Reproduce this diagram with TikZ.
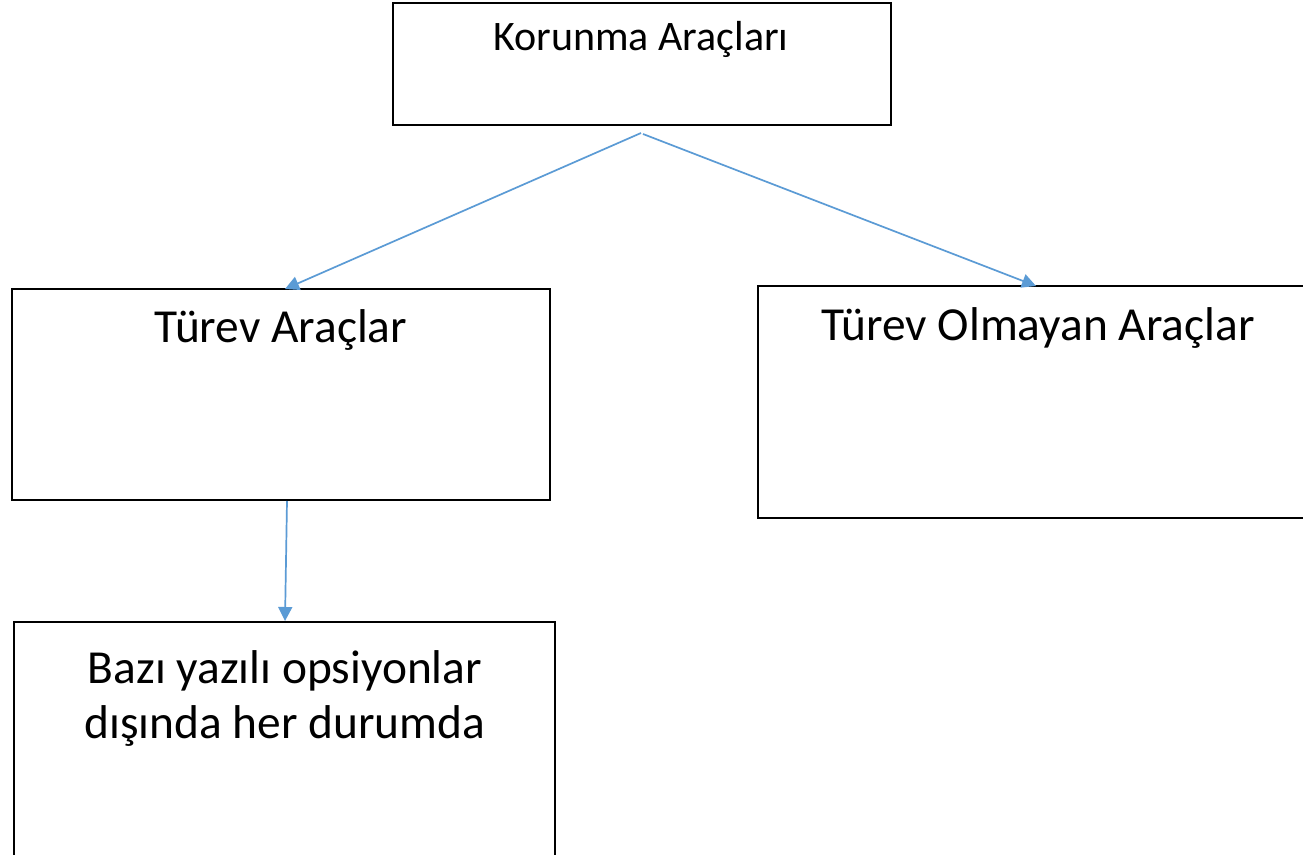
\documentclass[tikz,border=0pt]{standalone}
\usepackage{fontspec}
\setmainfont{Carlito}
\usetikzlibrary{arrows.meta}
\definecolor{arrowblue}{HTML}{5B9BD5}
\tikzset{
  box/.style={draw=black, line width=1.6pt, rectangle, inner sep=0pt},
  lbl/.style={anchor=base, inner sep=0pt, text=black},
  conn/.style={draw=arrowblue, line width=1.7pt, -{Triangle[length=14pt,width=14pt]}}
}
\begin{document}
\begin{tikzpicture}[x=1pt,y=-1pt]
\useasboundingbox (0,0) rectangle (1303,854);
\clip (0,0) rectangle (1303,854);
\fill[white] (0,0) rectangle (1303,854);
% boxes
\node[box, minimum width=498pt, minimum height=122pt] (top) at (642,64) {};
\node[box, minimum width=538pt, minimum height=211pt] (left) at (281,394.5) {};
\node[box, minimum width=580pt, minimum height=232pt] (right) at (1048,402) {};
\node[box, minimum width=541pt, minimum height=300pt] (bottom) at (284.5,772) {};
% texts
\node[lbl, font=\fontsize{42}{50}\selectfont] (ttop) at (641,50) {Korunma Araçları};
\node[lbl, font=\fontsize{47.4}{56}\selectfont] (tleft) at (281,342) {Türev Araçlar};
\node[lbl, font=\fontsize{47.4}{56}\selectfont] (tright) at (1038,340) {Türev Olmayan Araçlar};
\node[lbl, font=\fontsize{47.4}{56}\selectfont] (tb1) at (285,683) {Bazı yazılı opsiyonlar};
\node[lbl, font=\fontsize{47.4}{56}\selectfont] (tb2) at (285,738) {dışında her durumda};
% connector anchors
\coordinate (s1) at (641,133);
\coordinate (s2) at (643,134);
\coordinate (e1) at (285,289);
\coordinate (e2) at (1036,286);
\coordinate (s3) at (287,501);
\coordinate (e3) at (285,621);
\draw[conn] (s1) -- (e1);
\draw[conn] (s2) -- (e2);
\draw[conn] (s3) -- (e3);
\end{tikzpicture}
\end{document}
